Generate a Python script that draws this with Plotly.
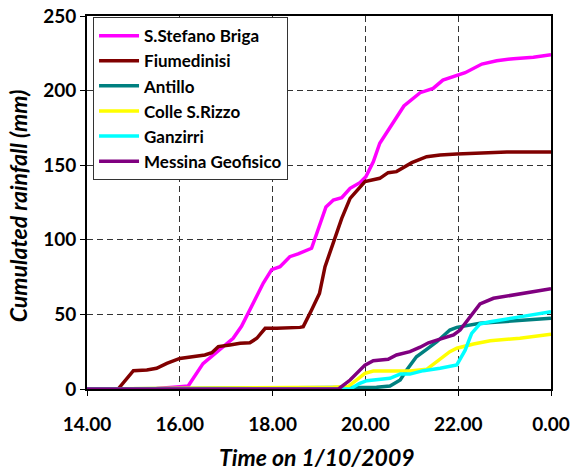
import plotly.graph_objects as go

# Time in decimal hours on 1/10/2009 (24 = 0.00 next day)
series_names = ["S.Stefano Briga", "Fiumedinisi", "Antillo", "Colle S.Rizzo", "Ganzirri", "Messina Geofisico"]
series_colors = ["#FF00FF", "#800000", "#008080", "#FFFF00", "#00FFFF", "#800080"]

stefano_t = [14.0, 15.5, 16.0, 16.18, 16.5, 16.72, 17.15, 17.33, 17.58, 17.8, 17.98, 18.16, 18.37, 18.55,
             18.84, 18.98, 19.15, 19.31, 19.49, 19.67, 19.88, 20.01, 20.17, 20.31, 20.53, 20.83, 21.18,
             21.46, 21.67, 21.99, 22.15, 22.51, 22.83, 23.19, 23.62, 24.0]
stefano_v = [0, 0.3, 1.5, 2, 17, 23, 34, 42, 57.5, 71, 80, 82, 88.7, 90.5,
             94.3, 106.6, 122, 126.7, 128.2, 134.5, 138.3, 142.3, 152.3, 164.7, 175, 189.7, 198.6,
             201.5, 207, 210.5, 212, 217.8, 220, 221.4, 222.3, 224]

fiume_t = [14.0, 14.67, 15.0, 15.29, 15.5, 15.72, 16.0, 16.29, 16.54, 16.69, 16.83, 17.08, 17.3, 17.51,
           17.66, 17.84, 18.09, 18.59, 18.66, 18.84, 19.01, 19.13, 19.31, 19.49, 19.67, 19.85, 19.99,
           20.31, 20.49, 20.67, 21.0, 21.32, 21.61, 21.97, 22.47, 23.05, 24.0]
fiume_v = [0, 0, 12.3, 12.7, 13.9, 17.2, 20.5, 22, 22.8, 24.3, 28.4, 29.5, 30.6, 31,
           34, 40.7, 40.7, 41.3, 41.8, 53, 64, 82, 97.6, 114.4, 127.8, 134.5, 139,
           141.2, 145, 145.7, 151.7, 155.7, 156.8, 157.5, 158, 158.8, 158.8]

antillo_t = [14.0, 19.95, 20.24, 20.53, 20.75, 20.89, 21.1, 21.32, 21.54, 21.82, 21.97, 22.47, 23.26, 24.0]
antillo_v = [0, 0.5, 1.1, 2, 6, 12.7, 21.6, 26.6, 31.7, 39.5, 41.3, 44, 45.8, 47.4]

colle_t = [14.0, 17.5, 19.3, 19.63, 19.81, 19.99, 20.17, 20.96, 21.32, 21.54, 21.82, 21.97, 22.33, 22.69,
           23.33, 24.0]
colle_v = [0, 0.5, 1.2, 1.6, 6, 10.5, 12, 12, 13.2, 18.3, 25, 27.3, 30.2, 32.4, 34, 36.7]

ganz_t = [14.0, 19.67, 19.88, 20.03, 20.53, 20.75, 20.96, 21.25, 21.61, 21.97, 22.15, 22.29, 22.47, 22.69,
          23.26, 24.0]
ganz_v = [0, 0, 3.8, 5.6, 7.2, 10, 10, 12.3, 13.9, 16.1, 26, 37.3, 43.6, 45.1, 48, 51.8]

messina_t = [14.0, 19.42, 19.67, 19.85, 19.99, 20.17, 20.49, 20.67, 20.96, 21.18, 21.36, 21.54, 21.9,
             22.04, 22.25, 22.47, 22.76, 23.19, 24.0]
messina_v = [0, 0, 6, 11.6, 16, 19, 19.9, 22.8, 25, 28, 31, 32.8, 36.2, 39.5, 48.5, 57, 60.8, 63, 67.2]

x_tickvals = [14, 16, 18, 20, 22, 24]
x_ticktext = ["14.00", "16.00", "18.00", "20.00", "22.00", "0.00"]
y_tickvals = [0, 50, 100, 150, 200, 250]

all_t = [stefano_t, fiume_t, antillo_t, colle_t, ganz_t, messina_t]
all_v = [stefano_v, fiume_v, antillo_v, colle_v, ganz_v, messina_v]

fig = go.Figure()
for i in range(len(series_names)):
    fig.add_trace(go.Scatter(
        x=all_t[i], y=all_v[i], mode="lines", name=series_names[i],
        line=dict(color=series_colors[i], width=3.5),
    ))

font_family = "Lato"
fig.update_layout(
    width=573, height=473,
    margin=dict(l=87, r=22, t=16, b=84),
    paper_bgcolor="white", plot_bgcolor="white",
    showlegend=True,
    legend=dict(
        x=0.013, y=0.997, xanchor="left", yanchor="top",
        bgcolor="white", bordercolor="#333", borderwidth=1,
        font=dict(family=font_family, size=17, color="black", weight="bold"),
        itemwidth=40,
    ),
    font=dict(family=font_family, color="black"),
)
fig.update_xaxes(
    range=[14, 24], tickvals=x_tickvals, ticktext=x_ticktext, automargin=False,
    showline=True, linecolor="black", linewidth=2, mirror=True,
    ticks="outside", ticklen=5, tickcolor="black", tickwidth=1,
    ticklabelstandoff=12,
    showgrid=True, gridcolor="#333", griddash="6px,4px", gridwidth=1,
    zeroline=False,
    tickfont=dict(family=font_family, size=19, color="black", weight="bold"),
)
fig.update_yaxes(
    range=[0, 250], tickvals=y_tickvals, automargin=False,
    showline=True, linecolor="black", linewidth=2, mirror=True,
    ticks="outside", ticklen=5, tickcolor="black", tickwidth=1,
    showgrid=True, gridcolor="#333", griddash="6px,4px", gridwidth=1,
    zeroline=False,
    tickfont=dict(family=font_family, size=19, color="black", weight="bold"),
)
fig.add_annotation(
    text="Time on 1/10/2009", xref="paper", yref="paper", x=0.495, y=-0.1823,
    xanchor="center", yanchor="middle", showarrow=False,
    font=dict(family=font_family, size=23, color="black", weight="bold", style="italic"),
)
fig.add_annotation(
    text="Cumulated rainfall (mm)", xref="paper", yref="paper", x=-0.1487, y=0.49,
    xanchor="center", yanchor="middle", showarrow=False, textangle=-90,
    font=dict(family=font_family, size=23, color="black", weight="bold", style="italic"),
)
fig.write_html("out.html")
